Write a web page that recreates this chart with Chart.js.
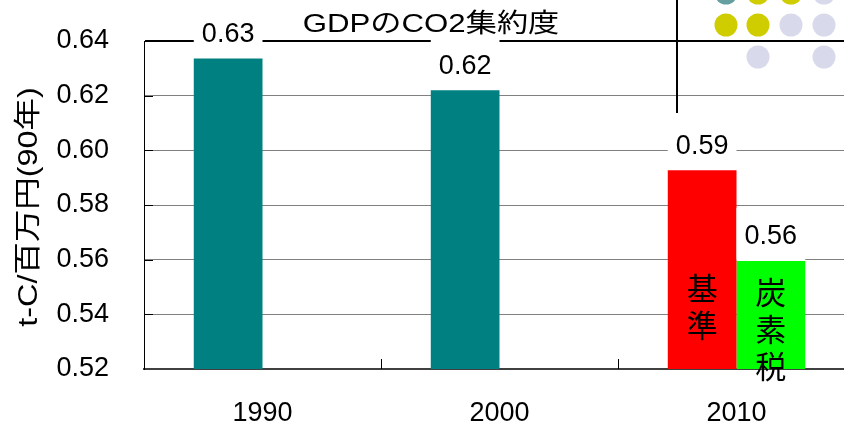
<!DOCTYPE html>
<html lang="ja">
<head>
  <meta charset="UTF-8">
  <title>GDPのCO2集約度</title>
  <script src="https://cdn.jsdelivr.net/npm/chart.js"></script>
  <style>
    html, body { margin: 0; padding: 0; background: #fff; overflow: hidden; }
    .wrap { position: relative; width: 880px; height: 428px; }
  </style>
</head>
<body>
  <div class="wrap"><canvas id="co2Chart"></canvas></div>

  <script>
    // GDP当たりCO2排出量 (t-C/百万円, 90年価格)
    const years = ['1990', '2000', '2010'];
    const baseValues = [0.6336, 0.6220, 0.5927];   // 実績 + 2010 基準ケース
    const taxValues = [null, null, 0.5595];        // 2010 炭素税ケース
    const baseColors = ['#008080', '#008080', '#ff0000'];
    const taxColors = ['#00ff00', '#00ff00', '#00ff00'];
    const caseNames = ['基準', '炭素税'];
    const yTicks = [0.52, 0.54, 0.56, 0.58, 0.60, 0.62, 0.64];

    const LATIN = '"Liberation Sans", Arial, "Noto Sans CJK JP", sans-serif';
    const CJK = '"Noto Sans CJK JP", sans-serif';

    const extras = {
      id: 'extras',
      afterDatasetsDraw(chart) {
        const { ctx, chartArea, scales } = chart;
        const bottom = chartArea.bottom;
        ctx.save();

        // small inward ticks on both axes
        ctx.strokeStyle = '#000';
        ctx.lineWidth = 1;
        ctx.beginPath();
        yTicks.slice(1, -1).forEach(v => {
          const y = Math.round(scales.y.getPixelForValue(v)) + 0.5;
          ctx.moveTo(chartArea.left, y);
          ctx.lineTo(chartArea.left + 9, y);
        });
        for (let i = 1; i < years.length; i++) {
          const x = Math.round((scales.x.getPixelForValue(i - 1) + scales.x.getPixelForValue(i)) / 2) + 0.5;
          ctx.moveTo(x, bottom - 10);
          ctx.lineTo(x, bottom);
        }
        ctx.stroke();

        // value labels on white backing
        chart.data.datasets.forEach((ds, di) => {
          chart.getDatasetMeta(di).data.forEach((bar, i) => {
            const v = ds.data[i];
            if (v == null) return;
            const w = bar.width;
            ctx.fillStyle = '#fff';
            ctx.fillRect(bar.x - w / 2, bar.y - 53, w, 52);
            ctx.fillStyle = '#000';
            ctx.font = '27px ' + LATIN;
            ctx.textAlign = 'center';
            ctx.textBaseline = 'middle';
            ctx.fillText(v.toFixed(2), bar.x, bar.y - 24);
          });
        });

        // vertical case names inside the 2010 bars
        const starts = [81, 77];
        ctx.font = '31px ' + CJK;
        ctx.fillStyle = '#000';
        ctx.textAlign = 'center';
        ctx.textBaseline = 'middle';
        caseNames.forEach((name, di) => {
          const bar = chart.getDatasetMeta(di).data[2];
          [...name].forEach((ch, k) => {
            ctx.fillText(ch, bar.x, bottom - starts[di] + k * 37);
          });
        });
        ctx.restore();
      },
      afterDraw(chart) {
        const { ctx } = chart;
        ctx.save();

        // chart title
        ctx.font = '26px ' + LATIN;
        ctx.fillStyle = '#000';
        ctx.textAlign = 'center';
        ctx.textBaseline = 'alphabetic';
        ctx.translate(431, 32);
        ctx.scale(1.2, 1);
        ctx.fillText('GDPのCO2集約度', 0, 0);
        ctx.restore();

        // y axis title
        ctx.save();
        ctx.font = '27px ' + LATIN;
        ctx.fillStyle = '#000';
        ctx.textAlign = 'center';
        ctx.textBaseline = 'middle';
        ctx.translate(30, 207);
        ctx.rotate(-Math.PI / 2);
        ctx.scale(1.2, 1);
        ctx.fillText('t-C/百万円(90年)', 0, 0);
        ctx.restore();

        // slide decoration top right
        ctx.save();
        ctx.strokeStyle = '#000';
        ctx.lineWidth = 2;
        ctx.beginPath();
        ctx.moveTo(677, 0);
        ctx.lineTo(677, 113);
        ctx.stroke();
        const teal = '#669f9f', olive = '#cfcc00', lav = '#d9d9ec';
        const dots = [
          [726, -7, teal], [758, -7, olive], [791, -7, olive], [824, -7, lav],
          [726, 25, olive], [758, 25, olive], [791, 25, lav], [824, 25, lav],
          [758, 57, lav], [824, 57, lav]
        ];
        dots.forEach(([x, y, c]) => {
          ctx.fillStyle = c;
          ctx.beginPath();
          ctx.arc(x, y, 11.5, 0, Math.PI * 2);
          ctx.fill();
        });
        ctx.restore();
      }
    };

    const ctx = document.getElementById('co2Chart').getContext('2d');
    new Chart(ctx, {
      type: 'bar',
      data: {
        labels: years,
        datasets: [
          { label: caseNames[0], data: baseValues, backgroundColor: baseColors },
          { label: caseNames[1], data: taxValues, backgroundColor: taxColors }
        ]
      },
      options: {
        responsive: true,
        maintainAspectRatio: false,
        animation: false,
        layout: { padding: { top: 41, right: 25, left: 0, bottom: 0 } },
        datasets: { bar: { categoryPercentage: 0.58, barPercentage: 1.0 } },
        plugins: {
          legend: { display: false },
          tooltip: { enabled: false },
          title: { display: false }
        },
        scales: {
          x: {
            grid: { display: false, drawTicks: false },
            border: { color: '#404040', width: 2 },
            ticks: { color: '#000', font: { family: LATIN, size: 27 }, padding: 28 },
            afterFit: s => { s.height = 59; s.paddingLeft = 0; s.paddingRight = 0; }
          },
          y: {
            min: yTicks[0],
            max: yTicks[yTicks.length - 1],
            afterBuildTicks: s => { s.ticks = yTicks.map(v => ({ value: v })); },
            grid: {
              drawTicks: false,
              color: c => (c.tick && c.tick.value >= 0.639 ? '#000' : '#808080'),
              lineWidth: c => (c.tick && c.tick.value >= 0.639 ? 2 : 1)
            },
            border: { color: '#000', width: 1 },
            ticks: {
              color: '#000',
              font: { family: LATIN, size: 27 },
              padding: 35,
              callback: v => Number(v).toFixed(2)
            },
            afterFit: s => { s.width = 144; s.paddingTop = 0; s.paddingBottom = 0; }
          }
        }
      },
      plugins: [extras]
    });
  </script>
</body>
</html>
